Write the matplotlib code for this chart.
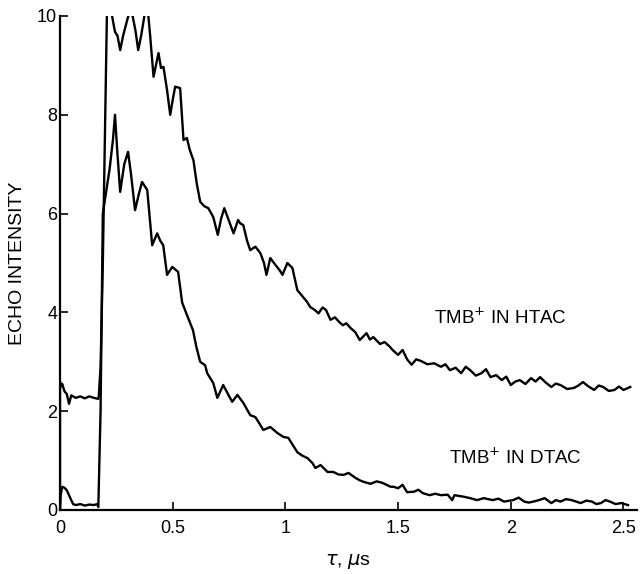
import matplotlib
matplotlib.use("Agg")
import matplotlib.pyplot as plt

plt.rcParams['font.family'] = ['Liberation Sans', 'DejaVu Sans']
plt.rcParams['mathtext.fontset'] = 'dejavusans'

# TMB+ in HTAC (upper trace)
htac_t = [0.0, 0.0, 0.005, 0.01, 0.02, 0.03, 0.04, 0.05, 0.07, 0.09, 0.11, 0.13, 0.15, 0.17,
          0.172, 0.18, 0.19, 0.2, 0.208, 0.215, 0.225, 0.231, 0.244, 0.255, 0.267, 0.28, 0.30,
          0.31, 0.32, 0.335, 0.347, 0.36, 0.378, 0.39, 0.40, 0.415, 0.437, 0.448, 0.459, 0.475,
          0.489, 0.50, 0.511, 0.533, 0.548, 0.563, 0.575, 0.592, 0.607, 0.622, 0.64, 0.658,
          0.68, 0.70, 0.715, 0.729, 0.75, 0.77, 0.79, 0.80, 0.813, 0.83, 0.844, 0.867, 0.889,
          0.905, 0.916, 0.933, 0.956, 0.975, 0.987, 1.009, 1.031, 1.053, 1.08, 1.095, 1.11,
          1.13, 1.147, 1.165, 1.18, 1.2, 1.22, 1.24, 1.255, 1.27, 1.29, 1.31, 1.33, 1.36, 1.375,
          1.39, 1.42, 1.44, 1.46, 1.48, 1.5, 1.52, 1.54, 1.56, 1.58, 1.6, 1.63, 1.66, 1.69,
          1.71, 1.73, 1.755, 1.78, 1.8, 1.82, 1.845, 1.87, 1.89, 1.91, 1.935, 1.96, 1.98, 2.0,
          2.02, 2.04, 2.065, 2.09, 2.11, 2.13, 2.155, 2.18, 2.2, 2.22, 2.25, 2.28, 2.3, 2.32,
          2.345, 2.37, 2.39, 2.41, 2.435, 2.46, 2.48, 2.5, 2.53]
htac_i = [0.0, 2.6, 2.5, 2.55, 2.4, 2.35, 2.15, 2.32, 2.27, 2.3, 2.26, 2.3, 2.27, 2.25,
          2.3, 2.9, 5.0, 7.8, 10.0, 10.5, 10.3, 10.0, 9.68, 9.6, 9.31, 9.6, 9.95,
          10.1, 10.05, 9.7, 9.31, 9.6, 10.1, 10.1, 9.6, 8.77, 9.25, 8.95, 8.97, 8.5,
          8.0, 8.3, 8.57, 8.54, 7.49, 7.53, 7.3, 7.08, 6.6, 6.24, 6.15, 6.11,
          5.93, 5.57, 5.9, 6.11, 5.85, 5.6, 5.87, 5.8, 5.77, 5.45, 5.26, 5.33, 5.2,
          5.0, 4.76, 5.1, 4.96, 4.85, 4.76, 5.0, 4.9, 4.45, 4.3, 4.22, 4.11,
          4.05, 3.98, 4.1, 4.05, 3.85, 3.9, 3.8, 3.74, 3.78, 3.68, 3.6, 3.44, 3.58, 3.45,
          3.5, 3.36, 3.4, 3.32, 3.22, 3.14, 3.24, 3.05, 2.94, 3.05, 3.02, 2.95, 2.97, 2.9,
          2.95, 2.83, 2.88, 2.77, 2.9, 2.83, 2.72, 2.77, 2.85, 2.69, 2.73, 2.63, 2.7, 2.53,
          2.6, 2.63, 2.55, 2.67, 2.6, 2.69, 2.58, 2.49, 2.56, 2.53, 2.45, 2.47, 2.52, 2.59,
          2.5, 2.43, 2.52, 2.49, 2.41, 2.43, 2.5, 2.43, 2.49]

# TMB+ in DTAC (lower trace)
dtac_t = [0.0, 0.003, 0.01, 0.02, 0.03, 0.04, 0.05, 0.058, 0.07, 0.09, 0.11, 0.13, 0.15, 0.165,
          0.17, 0.18, 0.19, 0.2, 0.22, 0.235, 0.244, 0.255, 0.267, 0.285, 0.302, 0.315, 0.333,
          0.35, 0.364, 0.387, 0.409, 0.431, 0.445, 0.458, 0.475, 0.498, 0.524, 0.542, 0.563,
          0.59, 0.605, 0.622, 0.644, 0.653, 0.68, 0.698, 0.724, 0.745, 0.764, 0.787, 0.813,
          0.844, 0.867, 0.885, 0.902, 0.933, 0.964, 0.991, 1.013, 1.035, 1.053, 1.075, 1.098,
          1.12, 1.133, 1.156, 1.187, 1.213, 1.235, 1.258, 1.28, 1.311, 1.33, 1.347, 1.378,
          1.405, 1.43, 1.467, 1.48, 1.5, 1.52, 1.54, 1.57, 1.59, 1.61, 1.64, 1.665, 1.69, 1.72,
          1.74, 1.75, 1.79, 1.82, 1.85, 1.88, 1.92, 1.945, 1.97, 2.01, 2.035, 2.06, 2.08, 2.10,
          2.125, 2.15, 2.18, 2.2, 2.22, 2.245, 2.27, 2.31, 2.335, 2.36, 2.38, 2.4, 2.42, 2.44,
          2.465, 2.49, 2.52]
dtac_i = [0.0, 0.3, 0.47, 0.45, 0.4, 0.3, 0.2, 0.12, 0.1, 0.12, 0.09, 0.11, 0.1, 0.12,
          0.06, 2.0, 6.0, 6.3, 6.9, 7.5, 8.0, 7.2, 6.44, 7.0, 7.25, 6.8, 6.07,
          6.4, 6.64, 6.48, 5.36, 5.6, 5.45, 5.36, 4.76, 4.92, 4.82, 4.2, 3.95,
          3.64, 3.3, 3.0, 2.93, 2.77, 2.57, 2.27, 2.53, 2.35, 2.19, 2.33, 2.17,
          1.92, 1.88, 1.75, 1.62, 1.68, 1.56, 1.48, 1.46, 1.3, 1.17, 1.1, 1.05,
          0.95, 0.85, 0.91, 0.77, 0.77, 0.72, 0.71, 0.75, 0.65, 0.6, 0.57, 0.53,
          0.58, 0.55, 0.47, 0.47, 0.44, 0.51, 0.36, 0.37, 0.41, 0.34, 0.3, 0.33, 0.3, 0.31,
          0.2, 0.3, 0.27, 0.24, 0.2, 0.24, 0.2, 0.23, 0.17, 0.2, 0.25, 0.17, 0.15, 0.17,
          0.2, 0.24, 0.14, 0.2, 0.17, 0.22, 0.2, 0.14, 0.19, 0.17, 0.12, 0.14, 0.2, 0.17,
          0.12, 0.14, 0.1]

x_ticks = [0, 0.5, 1, 1.5, 2, 2.5]
x_ticklabels = ['0', '0.5', '1', '1.5', '2', '2.5']
y_ticks = [0, 2, 4, 6, 8, 10]
y_ticklabels = ['0', '2', '4', '6', '8', '10']

fig = plt.figure(figsize=(6.41, 5.74), dpi=100)
ax = fig.add_axes([60 / 641, 1 - 510 / 574, (637 - 60) / 641, (510 - 16) / 574])

ax.plot(htac_t, htac_i, color='black', lw=1.7, solid_joinstyle='round')
ax.plot(dtac_t, dtac_i, color='black', lw=1.7, solid_joinstyle='round')

ax.set_xlim(0, 2.56)
ax.set_ylim(0, 10)
ax.set_xticks(x_ticks)
ax.set_xticklabels(x_ticklabels)
ax.set_yticks(y_ticks)
ax.set_yticklabels(y_ticklabels)
ax.spines['top'].set_visible(False)
ax.spines['right'].set_visible(False)
for s in ['left', 'bottom']:
    ax.spines[s].set_linewidth(1.6)
ax.tick_params(direction='in', length=6, width=1.2, labelsize=13)
ax.tick_params(axis='x', pad=7)
ax.tick_params(axis='y', pad=2)

ax.set_ylabel('ECHO INTENSITY', fontsize=14, labelpad=8)
ax.set_xlabel(r'$\tau$, $\mu$s', fontsize=14, labelpad=11)

ax.text(1.955, 3.89, r'TMB$^{+}$ IN HTAC', fontsize=13.5, ha='center', va='center')
ax.text(2.02, 1.05, r'TMB$^{+}$ IN DTAC', fontsize=13.5, ha='center', va='center')

fig.savefig('out.png', dpi=100)
